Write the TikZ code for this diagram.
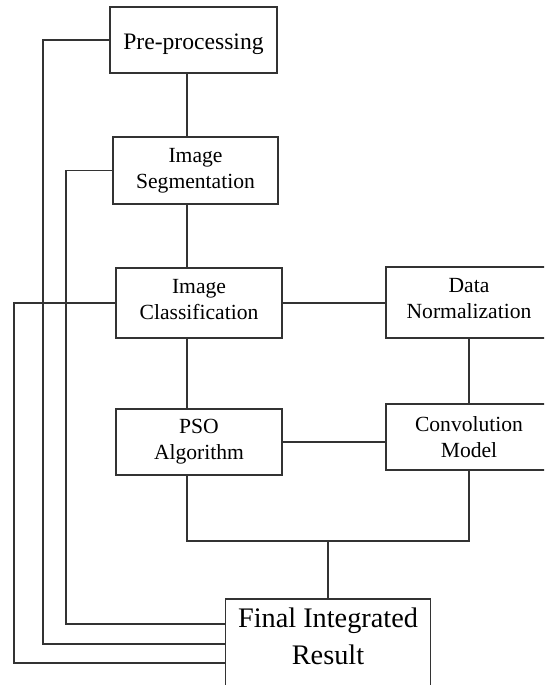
\documentclass[tikz,border=0pt]{standalone}
\usepackage{fontspec}
\setmainfont{Liberation Serif}
\usetikzlibrary{calc}
\tikzstyle{block} = [draw=black!80, line width=1.3pt, align=center, minimum width=166pt, minimum height=66pt, inner sep=0pt]
\tikzstyle{wire} = [draw=black!80, line width=1.3pt]

\begin{document}
\begin{tikzpicture}[x=1pt,y=-1pt,font=\fontsize{21.6}{26}\selectfont]
\useasboundingbox (0,0) rectangle (544,685);
\clip (0,0) rectangle (544,685);

	\node[block, minimum width=167pt, text height=25pt, font=\fontsize{23.6}{28}\selectfont] (pre) at (193.5,40) {Pre-processing};
	\node[block, minimum width=165pt, minimum height=67pt] (seg) at (195.5,170.5) {Image\\Segmentation};
	\node[block, minimum height=70pt, text depth=8pt] (cls) at (199,303) {Image\\Classification};
	\node[block, minimum height=71pt, text depth=8pt] (norm) at (469,302.5) {Data\\Normalization};
	\node[block] (pso) at (199,442) {PSO\\Algorithm};
	\node[block] (conv) at (469,437) {Convolution\\Model};
	\node[block, minimum width=205pt, minimum height=90pt, text depth=16pt, font=\fontsize{28.3}{37}\selectfont] (final) at (328,644) {Final Integrated\\Result};

	\coordinate (spine) at (187,0);
	\coordinate (bus) at (187,541);
	\coordinate (pa) at (43,644);
	\coordinate (sa) at (66,624);
	\coordinate (ca) at (14,663);

    \draw[wire] (spine |- pre.south) -- (spine |- seg.north);
    \draw[wire] (spine |- seg.south) -- (spine |- cls.north);
    \draw[wire] (spine |- cls.south) -- (spine |- pso.north);
    \draw[wire] (cls.east) -- (cls.east -| norm.west);
    \draw[wire] (norm.south) -- (conv.north);
    \draw[wire] (pso.east) -- (pso.east -| conv.west);
    \draw[wire] (spine |- pso.south) -- (bus) -| (conv.south);
    \draw[wire] (bus -| final.north) -- (final.north);

    \draw[wire] (pre.west) -| (pa) -- (final.west);
    \draw[wire] (seg.west) -| (sa) -- (sa -| final.west);
    \draw[wire] (cls.west) -| (ca) -- (ca -| final.west);
\end{tikzpicture}
\end{document}
